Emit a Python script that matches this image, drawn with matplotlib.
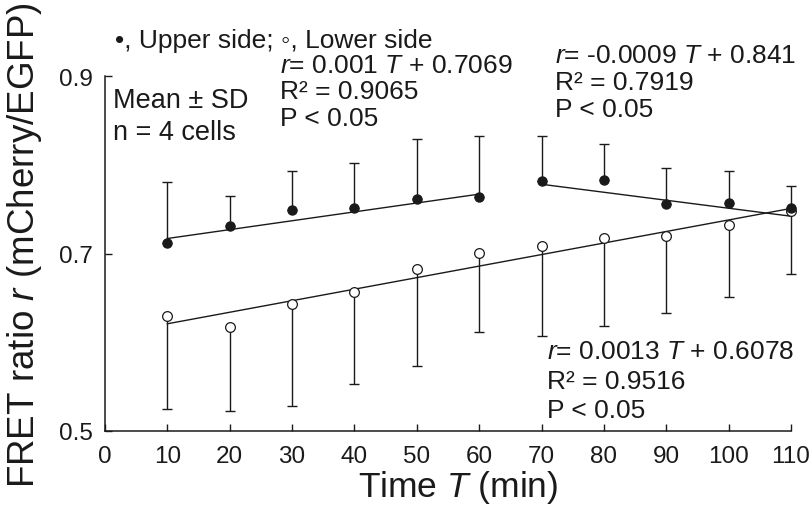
import numpy as np
import matplotlib
matplotlib.use("Agg")
import matplotlib.pyplot as plt

plt.rcParams["font.family"] = ["Liberation Sans", "DejaVu Sans"]
plt.rcParams["mathtext.fontset"] = "custom"
plt.rcParams["mathtext.rm"] = "Liberation Sans"
plt.rcParams["mathtext.it"] = "Liberation Sans:italic"

# Time points (min)
time_min = [10, 20, 30, 40, 50, 60, 70, 80, 90, 100, 110]

# Upper side: mean FRET ratio and SD
upper_mean = [0.7115, 0.7313, 0.7487, 0.7513, 0.7611, 0.7640,
              0.7814, 0.7828, 0.7554, 0.7569, 0.7516]
upper_sd = [0.0694, 0.0335, 0.0446, 0.0507, 0.0679, 0.0681,
            0.0507, 0.0402, 0.0406, 0.0361, 0.0245]

# Lower side: mean FRET ratio and SD
lower_mean = [0.6299, 0.6168, 0.6428, 0.6570, 0.6825, 0.7009,
              0.7081, 0.7171, 0.7197, 0.7321, 0.7479]
lower_sd = [0.1051, 0.0939, 0.1143, 0.1040, 0.1096, 0.0897,
            0.1014, 0.0988, 0.0867, 0.0808, 0.0710]

# Linear fits r = a*T + b over their time ranges
fit_upper_early = (0.001, 0.7069, 10, 60)
fit_upper_late = (-0.0009, 0.841, 70, 110)
fit_lower = (0.0013, 0.6078, 10, 110)

x_ticks = [0, 10, 20, 30, 40, 50, 60, 70, 80, 90, 100, 110]
y_ticks = [0.5, 0.7, 0.9]

W, H = 811, 510
fig = plt.figure(figsize=(W / 100, H / 100), dpi=100)
ax = fig.add_axes([105 / W, 1 - 432 / H, (791 - 105) / W, (432 - 77) / H])

ink = "#1a1a1a"
t = np.array(time_min)
um, us = np.array(upper_mean), np.array(upper_sd)
lm, ls = np.array(lower_mean), np.array(lower_sd)

# One-sided error bars
ax.errorbar(t, um, yerr=[np.zeros_like(us), us], fmt="none", ecolor=ink,
            elinewidth=1.0, capsize=3.3, capthick=1.0, clip_on=False, zorder=2)
ax.errorbar(t, lm, yerr=[ls, np.zeros_like(ls)], fmt="none", ecolor=ink,
            elinewidth=1.0, capsize=3.3, capthick=1.0, clip_on=False, zorder=2)

# Regression lines
for a, b, t0, t1 in (fit_upper_early, fit_upper_late, fit_lower):
    tt = np.array([t0, t1])
    ax.plot(tt, a * tt + b, color=ink, lw=1.0, zorder=3, clip_on=False)

ax.plot(t, lm, "o", ms=7, mfc="white", mec=ink, mew=0.9, zorder=4, clip_on=False)
ax.plot(t, um, "o", ms=6.5, mfc=ink, mec=ink, zorder=5, clip_on=False)

ax.set_xlim(0, 110)
ax.set_ylim(0.5, 0.9)
ax.set_xticks(x_ticks)
ax.set_yticks(y_ticks)
ax.set_yticklabels([f"{v:.1f}" for v in y_ticks])
ax.tick_params(direction="in", length=5, width=1.0, colors=ink, labelsize=17.5)
ax.tick_params(axis="x", pad=10)
ax.tick_params(axis="y", pad=9)
for s in ("top", "right"):
    ax.spines[s].set_visible(False)
for s in ("left", "bottom"):
    ax.spines[s].set_linewidth(1.1)
    ax.spines[s].set_color(ink)

ax.set_xlabel("Time $T$ (min)", fontsize=25.5, color=ink)
ax.set_ylabel("FRET ratio $r$ (mCherry/EGFP)", fontsize=26.5, color=ink)
ax.xaxis.set_label_coords((458 - 105) / 686, -(488 - 432) / 355, transform=ax.transAxes)
ax.yaxis.set_label_coords(-(105 - 25) / 686, (432 - 245) / 355, transform=ax.transAxes)
ax.xaxis.label.set_va("center")
ax.yaxis.label.set_va("center")


def ftext(x, y, s, size=19):
    fig.text(x / W, 1 - y / H, s, fontsize=size, color=ink, va="baseline", ha="left")


ftext(115, 48, "\u2022, Upper side; \u25e6, Lower side", 19)
ftext(113, 108, "Mean \u00b1 SD", 19.5)
ftext(113, 140, "n = 4 cells", 19.5)

eq_blocks = [
    (280, [73, 99, 126], fit_upper_early, "0.9065"),
    (555, [63, 90, 117], fit_upper_late, "0.7919"),
    (547, [359, 389, 418], fit_lower, "0.9516"),
]
for x0, ys, (a, b, _, _), r2 in eq_blocks:
    ftext(x0, ys[0], f"$r$= {a:g} $T$ + {b:g}")
    ftext(x0, ys[1], f"R\u00b2 = {r2}")
    ftext(x0, ys[2], "P < 0.05")

fig.savefig("out.png", dpi=100)
